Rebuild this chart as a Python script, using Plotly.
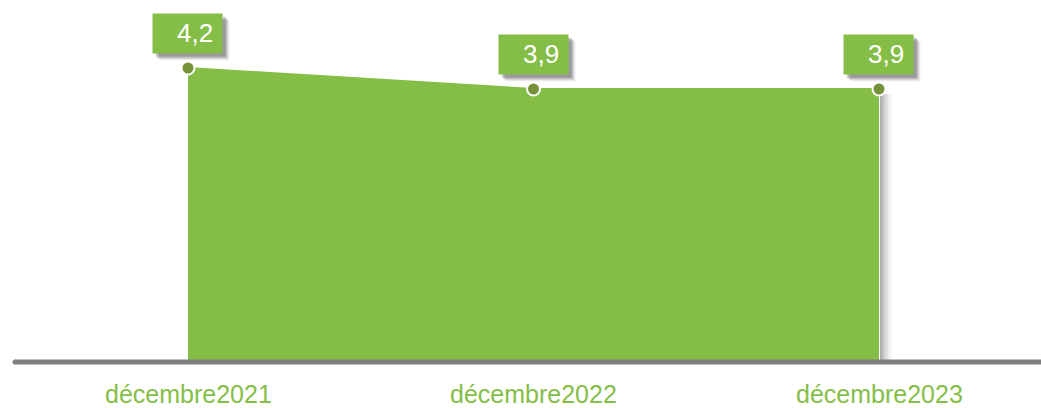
import plotly.graph_objects as go

# Data
categories = ["décembre2021", "décembre2022", "décembre2023"]
values = [4.2, 3.9, 3.9]
value_labels = ["4,2", "3,9", "3,9"]

GREEN = "#84BE46"
DARK_GREEN = "#76923B"
AXIS_GREY = "#808080"
FONT = "Liberation Sans, Arial, sans-serif"

W, H = 1041, 408
x_pos = list(range(len(categories)))

fig = go.Figure()

# Filled area
fig.add_trace(go.Scatter(
    x=x_pos, y=values, mode="lines", fill="tozeroy",
    line=dict(color=GREEN, width=0), fillcolor=GREEN,
    hoverinfo="skip", showlegend=False,
))
# Top edge line and markers
fig.add_trace(go.Scatter(
    x=x_pos, y=values, mode="lines+markers",
    line=dict(color=GREEN, width=2),
    marker=dict(size=13, color=DARK_GREEN, line=dict(color="white", width=2)),
    hoverinfo="skip", showlegend=False,
))

shapes = []
# Soft shadow on the right side of the area
last = x_pos[-1]
for i, op in enumerate([0.55, 0.42, 0.30, 0.20, 0.12, 0.06]):
    shapes.append(dict(
        type="rect", xref="x", yref="y", xsizemode="pixel", xanchor=last,
        x0=1 + i * 2, x1=3 + i * 2, y0=0, y1=values[-1] - 0.07,
        fillcolor=f"rgba(110,110,110,{op})", line=dict(width=0), layer="below",
    ))
# Baseline
shapes.append(dict(
    type="line", xref="paper", yref="y", x0=15 / W, x1=1.0, y0=0, y1=0,
    line=dict(color=AXIS_GREY, width=5), layer="above",
))
# Rounded left cap of baseline
shapes.append(dict(
    type="circle", xref="paper", yref="y", xsizemode="pixel", ysizemode="pixel",
    xanchor=15 / W, yanchor=0, x0=-2.5, x1=2.5, y0=-2.5, y1=2.5,
    fillcolor=AXIS_GREY, line=dict(width=0), layer="above",
))

annotations = []
for x, v, lab, cat in zip(x_pos, values, value_labels, categories):
    # Label shadow
    for dx, op in [(7, 0.05), (6, 0.07), (5, 0.10), (4, 0.12), (3, 0.12)]:
        annotations.append(dict(
            x=x, y=v, xref="x", yref="y", text="", showarrow=False,
            width=69, height=39, bgcolor=f"rgba(0,0,0,{op})",
            xshift=-0.5 + dx, yshift=35 - dx, borderpad=0,
        ))
    # Value label box
    annotations.append(dict(
        x=x, y=v, xref="x", yref="y", text="", showarrow=False,
        width=69, height=39, bgcolor=GREEN,
        xshift=-0.5, yshift=35, borderpad=0,
    ))
    # Value label text, right-aligned inside the box
    annotations.append(dict(
        x=x, y=v, xref="x", yref="y", text=lab, showarrow=False,
        xanchor="right", yanchor="middle",
        font=dict(family=FONT, size=26, color="white"),
        xshift=26, yshift=35, borderpad=0,
    ))
    # Category label
    annotations.append(dict(
        x=x, y=0, xref="x", yref="y", text=cat, showarrow=False,
        font=dict(family=FONT, size=25, color=GREEN),
        yshift=-32, yanchor="middle", borderpad=0,
    ))

px_per_unit = 345.5
x0_px = 188
px_per_val = 70
zero_px = 362

fig.update_layout(
    width=W, height=H,
    margin=dict(l=0, r=0, t=0, b=0),
    paper_bgcolor="white", plot_bgcolor="white",
    xaxis=dict(range=[-x0_px / px_per_unit, (W - x0_px) / px_per_unit],
               visible=False, fixedrange=True),
    yaxis=dict(range=[-(H - zero_px) / px_per_val, zero_px / px_per_val],
               visible=False, fixedrange=True),
    shapes=shapes, annotations=annotations,
    showlegend=False,
)

fig.write_html("out.html", config={"displayModeBar": False})
